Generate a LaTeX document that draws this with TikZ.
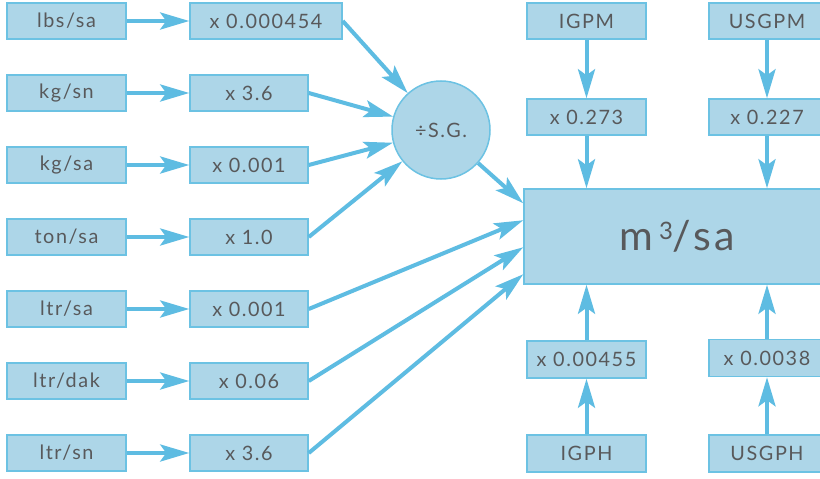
\documentclass[tikz,border=0pt]{standalone}
\usepackage{fontspec}
\setmainfont{Lato}[LetterSpace=8]
\usetikzlibrary{arrows.meta,calc}
\definecolor{boxfill}{HTML}{ADD6E8}
\definecolor{boxline}{HTML}{6CC2E3}
\definecolor{arr}{HTML}{5EBCE2}
\definecolor{txt}{HTML}{58595B}
\begin{document}
\begin{tikzpicture}[x=1pt,y=-1pt,
 box/.style={draw=boxline, line width=1.5pt, fill=boxfill, inner sep=0pt, text=txt,
   font=\fontsize{19.8}{22}\selectfont, minimum height=36pt},
 lbox/.style={box, minimum width=119pt},
 mbox/.style={box, minimum width=118pt},
 rbox/.style={box, minimum width=116pt},
 conn/.style={draw=arr, line width=4pt, -{Stealth[length=29pt,width=17pt,inset=6pt]}}]
\clip (0,0) rectangle (820,479);
\fill[white] (0,0) rectangle (820,479);
% left column
\node[lbox] (a1) at (66.5,21) {lbs/sa};
\node[lbox] (a2) at (66.5,93) {kg/sn};
\node[lbox] (a3) at (66.5,165) {kg/sa};
\node[lbox] (a4) at (66.5,237) {ton/sa};
\node[lbox] (a5) at (66.5,309) {ltr/sa};
\node[lbox] (a6) at (66.5,381) {ltr/dak};
\node[lbox] (a7) at (66.5,453) {ltr/sn};
% middle column
\node[box, minimum width=152pt] (b1) at (266,21) {x 0.000454};
\node[mbox] (b2) at (249,93) {x 3.6};
\node[mbox] (b3) at (249,165) {x 0.001};
\node[mbox] (b4) at (249,237) {x 1.0};
\node[mbox] (b5) at (249,309) {x 0.001};
\node[mbox] (b6) at (249,381) {x 0.06};
\node[mbox] (b7) at (249,453) {x 3.6};
% circle
\node[draw=boxline, line width=1.5pt, fill=boxfill, circle, minimum size=98pt, inner sep=0pt,
  text=txt, font=\fontsize{19.8}{22}\selectfont] (sg) at (441,130) {÷S.G.};
% big box
\node[draw=boxline, line width=1.5pt, fill=boxfill, minimum width=306pt, minimum height=95pt,
  inner sep=0pt, text=txt, font=\fontsize{41}{44}\selectfont] (big) at (677,236.5)
  {m\hspace{6pt}\raisebox{11pt}{\fontsize{24}{26}\selectfont 3}/sa};
% right columns
\node[lbox] (c1) at (586.5,21) {IGPM};
\node[lbox] (c2) at (586.5,117) {x 0.273};
\node[lbox, minimum height=37pt] (c3) at (586.5,359.5) {x 0.00455};
\node[lbox, minimum height=37pt] (c4) at (586.5,453.5) {IGPH};
\node[rbox] (d1) at (767,21) {USGPM};
\node[rbox] (d2) at (767,117) {x 0.227};
\node[rbox, minimum height=37pt] (d3) at (767,358) {x 0.0038};
\node[rbox, minimum height=37pt] (d4) at (767,453.5) {USGPH};
% coordinates on big box
\coordinate (e0) at ([yshift=-15pt]big.north west);
\coordinate (e5) at ([yshift=-32pt]big.north west);
\coordinate (e6) at ([yshift=-59pt]big.north west);
\coordinate (e7) at ([yshift=-86pt]big.north west);
% connectors
\foreach \i in {1,...,7} {\draw[conn] (a\i.east) -- (b\i.west);}
\draw[conn] (b1.east) -- (sg);
\draw[conn] (b2.east) -- (sg);
\draw[conn] (b3.east) -- (sg);
\draw[conn] (b4.east) -- (sg);
\draw[conn] (sg) -- (e0);
\draw[conn] (b5.east) -- (e5);
\draw[conn] (b6.east) -- (e6);
\draw[conn] (b7.east) -- (e7);
\draw[conn] (c1) -- (c2);
\draw[conn] (c2) -- (c2 |- big.north);
\draw[conn] (c4) -- (c3);
\draw[conn] (c3) -- (c3 |- big.south);
\draw[conn] (d1) -- (d2);
\draw[conn] (d2) -- (d2 |- big.north);
\draw[conn] (d4) -- (d3);
\draw[conn] (d3) -- (d3 |- big.south);
\end{tikzpicture}
\end{document}
